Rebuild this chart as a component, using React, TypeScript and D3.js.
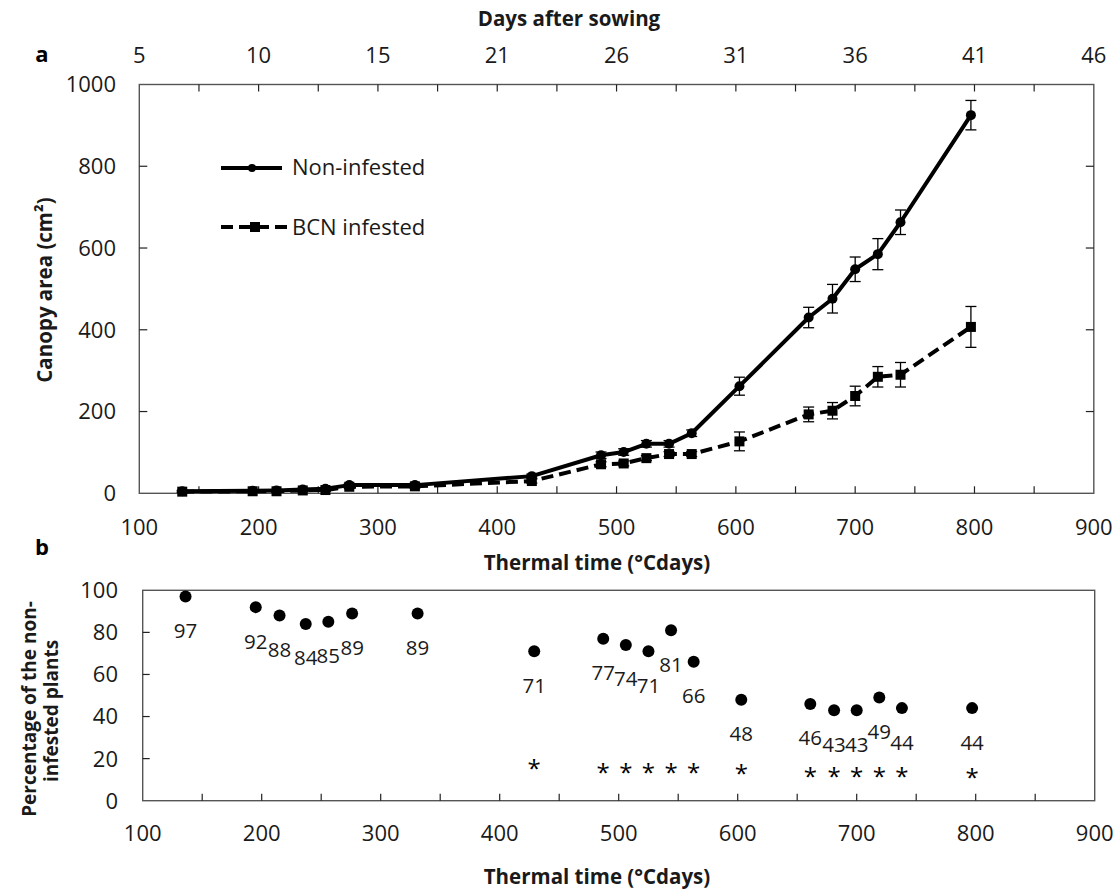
import React from 'react';
import * as d3 from 'd3';

// ---- data ----
const thermalTime = [136, 195, 215, 237, 256, 276, 331, 429, 487, 506, 525, 544, 563, 603, 661, 681, 700, 719, 738, 797];
const nonInfested = [5, 6, 7, 9, 11, 20, 20, 42, 93, 101, 121, 121, 147, 262, 430, 476, 548, 585, 663, 925];
const nonInfestedErr = [2, 2, 2, 3, 3, 4, 4, 5, 8, 8, 8, 8, 8, 22, 25, 35, 30, 38, 30, 36];
const bcnInfested = [4, 5, 5, 7, 8, 16, 17, 30, 71, 73, 86, 96, 96, 127, 193, 202, 238, 285, 290, 407];
const bcnErr = [2, 2, 2, 3, 3, 4, 4, 5, 6, 6, 6, 6, 6, 23, 18, 20, 24, 25, 30, 50];
const percentOfNonInfested = [97, 92, 88, 84, 85, 89, 89, 71, 77, 74, 71, 81, 66, 48, 46, 43, 43, 49, 44, 44];
// asterisk (significance) marker level in percent units, null = not significant
const asteriskLevel: (number | null)[] = [null, null, null, null, null, null, null, 17.5, 15.4, 15.4, 15.4, 15.4, 15.4, 14.9, 13.8, 13.8, 13.8, 13.8, 13.8, 13.0];

const thermalTicks = [100, 200, 300, 400, 500, 600, 700, 800, 900];
const thermalMinorTicks = [150, 250, 350, 450, 550, 650, 750, 850];
const dayLabels = [5, 10, 15, 21, 26, 31, 36, 41, 46];
const canopyTicks = [0, 200, 400, 600, 800, 1000];
const percentTicks = [0, 20, 40, 60, 80, 100];

const FONT = '"Open Sans", Lato, sans-serif';

export default function App() {
  const xA = d3.scaleLinear().domain([100, 900]).range([139.3, 1093.8]);
  const yA = d3.scaleLinear().domain([0, 1000]).range([493.3, 84.5]);
  const xB = d3.scaleLinear().domain([100, 900]).range([142.7, 1094.7]);
  const yB = d3.scaleLinear().domain([0, 100]).range([800.7, 590.3]);

  const idx = thermalTime.map((_, i) => i);
  const lineNI = d3.line<number>().x((i) => xA(thermalTime[i])).y((i) => yA(nonInfested[i]));
  const lineBCN = d3.line<number>().x((i) => xA(thermalTime[i])).y((i) => yA(bcnInfested[i]));

  const allTicksA = [...thermalTicks, ...thermalMinorTicks];
  const fs = 22;
  const labelFs = 20.5;
  const titleFs = 20.5;
  const axisColor = '#555';
  const textColor = '#1a1a1a';

  return (
    <svg width={1118} height={892} style={{ position: 'absolute', left: 0, top: 0, background: '#fff' }} fontFamily={FONT}>
      <rect x={0} y={0} width={1118} height={892} fill="#fff" />
      {/* ===== Panel a ===== */}
      <text x={42} y={62} fontSize={22} fontWeight="bold" textAnchor="middle">a</text>
      <text x={569} y={26} fontSize={titleFs} fontWeight="bold" textAnchor="middle" fill={textColor}>Days after sowing</text>
      {thermalTicks.map((t, i) => (
        <text key={'d' + t} x={xA(t)} y={55 + 0.36 * fs} fontSize={fs} textAnchor="middle" fill={textColor}>{dayLabels[i]}</text>
      ))}
      {/* plot frame */}
      <rect x={xA(100)} y={yA(1000)} width={xA(900) - xA(100)} height={yA(0) - yA(1000)} fill="none" stroke={axisColor} strokeWidth={1.4} />
      {/* top & bottom ticks */}
      {allTicksA.filter((t) => t > 100 && t < 900).map((t) => (
        <g key={'ta' + t}>
          <line x1={xA(t)} x2={xA(t)} y1={yA(1000)} y2={yA(1000) + 7} stroke="#222" strokeWidth={1.2} />
          <line x1={xA(t)} x2={xA(t)} y1={yA(0)} y2={yA(0) - 7} stroke="#222" strokeWidth={1.2} />
        </g>
      ))}
      {canopyTicks.filter((v) => v > 0 && v < 1000).map((v) => (
        <g key={'ya' + v}>
          <line x1={xA(100)} x2={xA(100) + 8} y1={yA(v)} y2={yA(v)} stroke="#222" strokeWidth={1.2} />
          <line x1={xA(900)} x2={xA(900) - 8} y1={yA(v)} y2={yA(v)} stroke="#222" strokeWidth={1.2} />
        </g>
      ))}
      {canopyTicks.map((v) => (
        <text key={'yl' + v} x={116} y={yA(v) + 0.36 * fs} fontSize={fs} textAnchor="end" fill={textColor}>{v}</text>
      ))}
      {thermalTicks.map((t) => (
        <text key={'xl' + t} x={xA(t)} y={527 + 0.36 * fs} fontSize={fs} textAnchor="middle" fill={textColor}>{t}</text>
      ))}
      <text x={597} y={570} fontSize={titleFs} fontWeight="bold" textAnchor="middle" fill={textColor}>Thermal time (°Cdays)</text>
      <text transform="translate(52,290) rotate(-90)" fontSize={titleFs} fontWeight="bold" textAnchor="middle" fill={textColor}>Canopy area (cm²)</text>

      {/* series lines */}
      <path d={lineNI(idx) || ''} fill="none" stroke="#000" strokeWidth={4} strokeLinejoin="round" />
      <path d={lineBCN(idx) || ''} fill="none" stroke="#000" strokeWidth={4} strokeDasharray="12,6" />
      {/* error bars */}
      {idx.map((i) => {
        const x = xA(thermalTime[i]);
        return (
          <g key={'eb' + i} stroke="#000" strokeWidth={1.3}>
            <line x1={x} x2={x} y1={yA(nonInfested[i] - nonInfestedErr[i])} y2={yA(nonInfested[i] + nonInfestedErr[i])} />
            <line x1={x - 5.5} x2={x + 5.5} y1={yA(nonInfested[i] + nonInfestedErr[i])} y2={yA(nonInfested[i] + nonInfestedErr[i])} />
            <line x1={x - 5.5} x2={x + 5.5} y1={yA(nonInfested[i] - nonInfestedErr[i])} y2={yA(nonInfested[i] - nonInfestedErr[i])} />
            <line x1={x} x2={x} y1={yA(bcnInfested[i] - bcnErr[i])} y2={yA(bcnInfested[i] + bcnErr[i])} />
            <line x1={x - 5.5} x2={x + 5.5} y1={yA(bcnInfested[i] + bcnErr[i])} y2={yA(bcnInfested[i] + bcnErr[i])} />
            <line x1={x - 5.5} x2={x + 5.5} y1={yA(bcnInfested[i] - bcnErr[i])} y2={yA(bcnInfested[i] - bcnErr[i])} />
          </g>
        );
      })}
      {idx.map((i) => (
        <circle key={'cn' + i} cx={xA(thermalTime[i])} cy={yA(nonInfested[i])} r={5} fill="#000" />
      ))}
      {idx.map((i) => (
        <rect key={'sq' + i} x={xA(thermalTime[i]) - 5} y={yA(bcnInfested[i]) - 5} width={10} height={10} fill="#000" />
      ))}

      {/* legend */}
      <line x1={221} x2={282} y1={168} y2={168} stroke="#000" strokeWidth={4} />
      <circle cx={252} cy={168} r={4} fill="#000" />
      <text x={292} y={167 + 0.36 * fs} fontSize={fs} fill={textColor}>Non-infested</text>
      <line x1={221} x2={287} y1={227} y2={227} stroke="#000" strokeWidth={4} strokeDasharray="12,6" />
      <rect x={250} y={222} width={10} height={10} fill="#000" />
      <text x={292} y={227 + 0.36 * fs} fontSize={fs} fill={textColor}>BCN infested</text>

      {/* ===== Panel b ===== */}
      <text x={42} y={555} fontSize={22} fontWeight="bold" textAnchor="middle">b</text>
      <rect x={xB(100)} y={yB(100)} width={xB(900) - xB(100)} height={yB(0) - yB(100)} fill="none" stroke={axisColor} strokeWidth={1.4} />
      {allTicksA.filter((t) => t > 100 && t < 900).map((t) => (
        <line key={'tb' + t} x1={xB(t)} x2={xB(t)} y1={yB(0)} y2={yB(0) - 7} stroke="#222" strokeWidth={1.2} />
      ))}
      {percentTicks.filter((v) => v > 0 && v < 100).map((v) => (
        <line key={'yb' + v} x1={xB(100)} x2={xB(100) + 7} y1={yB(v)} y2={yB(v)} stroke="#222" strokeWidth={1.2} />
      ))}
      {percentTicks.map((v) => (
        <text key={'ybl' + v} x={118} y={yB(v) + 0.36 * fs} fontSize={fs} textAnchor="end" fill={textColor}>{v}</text>
      ))}
      {thermalTicks.map((t) => (
        <text key={'xbl' + t} x={xB(t)} y={833 + 0.36 * fs} fontSize={fs} textAnchor="middle" fill={textColor}>{t}</text>
      ))}
      <text x={597} y={884} fontSize={titleFs} fontWeight="bold" textAnchor="middle" fill={textColor}>Thermal time (°Cdays)</text>
      <text transform="translate(36,709) rotate(-90)" fontSize={19} fontWeight="bold" textAnchor="middle" fill={textColor}>Percentage of the non-</text>
      <text transform="translate(58,711) rotate(-90)" fontSize={19} fontWeight="bold" textAnchor="middle" fill={textColor}>infested plants</text>

      {idx.map((i) => (
        <g key={'pb' + i}>
          <circle cx={xB(thermalTime[i])} cy={yB(percentOfNonInfested[i])} r={6} fill="#000" />
          <text x={xB(thermalTime[i])} y={yB(percentOfNonInfested[i]) + 34 + 0.36 * labelFs} fontSize={labelFs} textAnchor="middle" fill={textColor}>{percentOfNonInfested[i]}</text>
        </g>
      ))}
      {idx.filter((i) => asteriskLevel[i] !== null).map((i) => (
        <text key={'as' + i} x={xB(thermalTime[i])} y={yB(asteriskLevel[i] as number) + 13} fontSize={24} textAnchor="middle" fill="#000">*</text>
      ))}
    </svg>
  );
}
